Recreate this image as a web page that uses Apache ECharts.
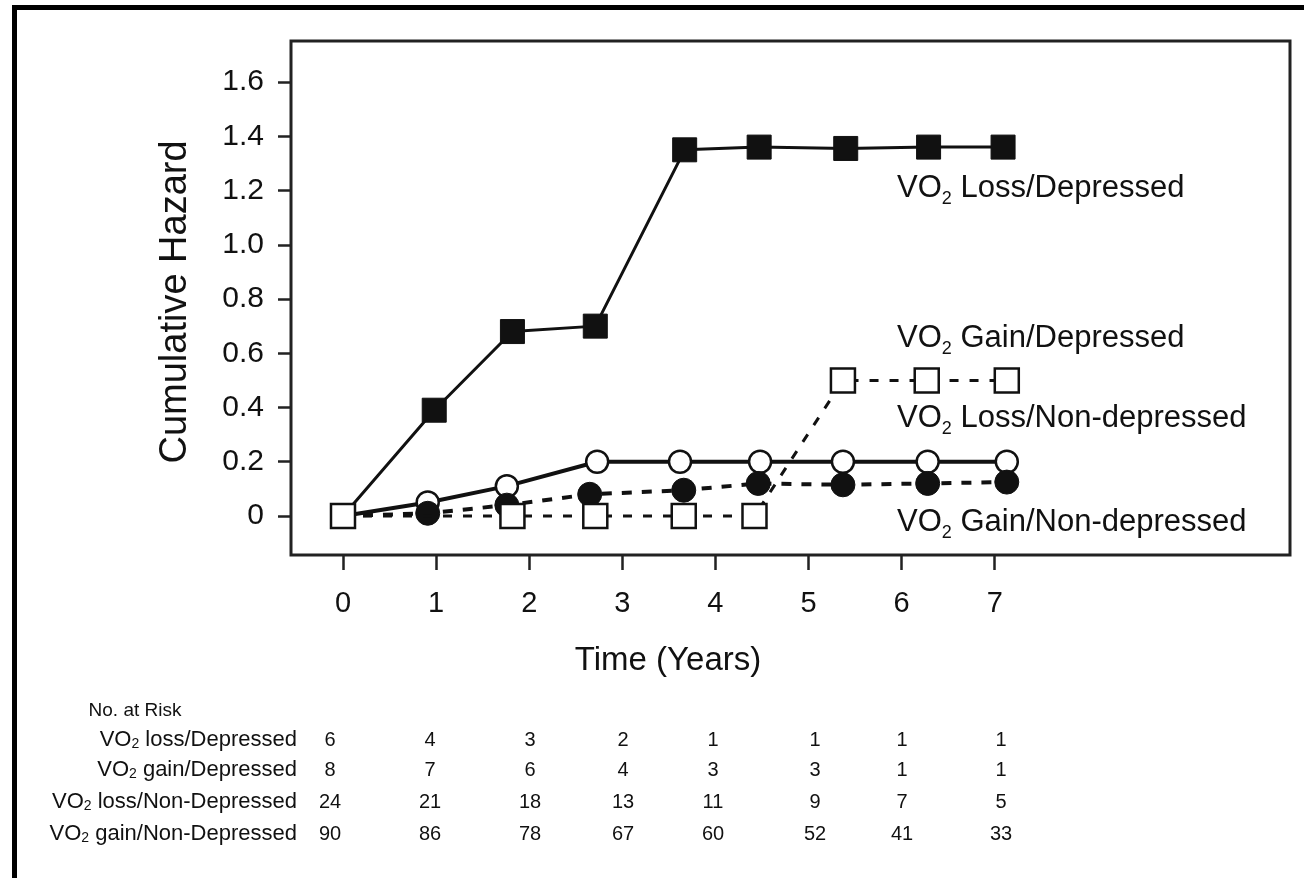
<!DOCTYPE html>
<html>
<head>
<meta charset="utf-8">
<title>Cumulative Hazard by VO2 change and depression status</title>
<script src="https://cdn.jsdelivr.net/npm/echarts@6/dist/echarts.min.js"></script>
<style>
  html, body { margin: 0; padding: 0; background: #fff; }
  #chart { width: 1304px; height: 878px; }
</style>
</head>
<body>
<div id="chart"></div>
<script>
// Tick labels
const TIME_TICKS = [0, 1, 2, 3, 4, 5, 6, 7];
const HAZARD_TICKS = [0, 0.2, 0.4, 0.6, 0.8, 1.0, 1.2, 1.4, 1.6];

// Cumulative hazard curves (time in years, cumulative hazard)
const lossDepTime      = [0, 0.98, 1.82, 2.71, 3.67, 4.47, 5.40, 6.29, 7.09];
const lossDepHazard    = [0, 0.39, 0.68, 0.70, 1.35, 1.36, 1.355, 1.36, 1.36];

const gainDepTime      = [0, 1.82, 2.71, 3.66, 4.42, 5.37, 6.27, 7.13];
const gainDepHazard    = [0, 0, 0, 0, 0, 0.50, 0.50, 0.50];

const lossNonDepTime   = [0, 0.91, 1.76, 2.73, 3.62, 4.48, 5.37, 6.28, 7.13];
const lossNonDepHazard = [0, 0.05, 0.11, 0.20, 0.20, 0.20, 0.20, 0.20, 0.20];

const gainNonDepTime   = [0, 0.91, 1.76, 2.65, 3.66, 4.46, 5.37, 6.28, 7.13];
const gainNonDepHazard = [0, 0.01, 0.04, 0.08, 0.095, 0.12, 0.115, 0.12, 0.125];

// Number at risk table
const riskTitle = 'No. at Risk';
const riskGroups = ['loss/Depressed', 'gain/Depressed', 'loss/Non-Depressed', 'gain/Non-Depressed'];
const riskLossDep    = [6, 4, 3, 2, 1, 1, 1, 1];
const riskGainDep    = [8, 7, 6, 4, 3, 3, 1, 1];
const riskLossNonDep = [24, 21, 18, 13, 11, 9, 7, 5];
const riskGainNonDep = [90, 86, 78, 67, 60, 52, 41, 33];

// Curve labels inside the plot
const curveNames = ['Loss/Depressed', 'Gain/Depressed', 'Loss/Non-depressed', 'Gain/Non-depressed'];

const FONT = '"Liberation Sans", Arial, Helvetica, sans-serif';
const INK = '#111';

const zip = (xs, ys) => xs.map((x, i) => [x, ys[i]]);

// ---- layout ----
const GRID = { left: 291, top: 41, right: 14, bottom: 323 };
const X_MIN = -0.5585, X_MAX = 10.172;
const Y_MIN = -0.1438, Y_MAX = 1.7512;

const curveLabelPos = [
  { x: 897, y: 188 },
  { x: 897, y: 338 },
  { x: 897, y: 418 },
  { x: 897, y: 522 }
];
const riskColX = [330, 430, 530, 623, 713, 815, 902, 1001];
const riskRowY = [740, 770, 802, 834];
const riskLabelRight = 297;

function voText(rest, big, small, drop) {
  return {
    text: '{m|VO}{s|2}{m| ' + rest + '}',
    rich: {
      m: { fontSize: big, fontFamily: FONT, fill: INK, lineHeight: big + 10 },
      s: { fontSize: small, fontFamily: FONT, fill: INK, padding: [drop, 0, 0, 0], lineHeight: big + 10 }
    }
  };
}

const graphics = [
  // outer figure frame (top and left edges)
  { type: 'rect', shape: { x: 12, y: 5, width: 1292, height: 5 }, style: { fill: '#000' }, silent: true },
  { type: 'rect', shape: { x: 12, y: 5, width: 5, height: 873 }, style: { fill: '#000' }, silent: true },
  // axis titles
  {
    type: 'text', x: 176, y: 302, rotation: Math.PI / 2,
    style: { text: 'Cumulative Hazard', fontSize: 38, fontFamily: FONT, fill: INK, align: 'center', verticalAlign: 'middle' }
  },
  {
    type: 'text', x: 668, y: 661,
    style: { text: 'Time (Years)', fontSize: 33, fontFamily: FONT, fill: INK, align: 'center', verticalAlign: 'middle' }
  },
  {
    type: 'text', x: 135, y: 711,
    style: { text: riskTitle, fontSize: 19, fontFamily: FONT, fill: INK, align: 'center', verticalAlign: 'middle' }
  }
];

curveNames.forEach((name, i) => {
  const t = voText(name, 31, 18, 22);
  graphics.push({
    type: 'text', x: curveLabelPos[i].x, y: curveLabelPos[i].y,
    style: Object.assign({ align: 'left', verticalAlign: 'middle' }, t)
  });
});

const riskCounts = [riskLossDep, riskGainDep, riskLossNonDep, riskGainNonDep];
riskGroups.forEach((g, r) => {
  const t = voText(g, 22, 14, 9);
  graphics.push({
    type: 'text', x: riskLabelRight, y: riskRowY[r],
    style: Object.assign({ align: 'right', verticalAlign: 'middle' }, t)
  });
  riskCounts[r].forEach((n, c) => {
    graphics.push({
      type: 'text', x: riskColX[c], y: riskRowY[r],
      style: { text: String(n), fontSize: 20, fontFamily: FONT, fill: INK, align: 'center', verticalAlign: 'middle' }
    });
  });
});

const openMarker = { color: '#fff', borderColor: INK, borderWidth: 2.5 };
const filledMarker = { color: INK, borderColor: INK, borderWidth: 1 };

const option = {
  backgroundColor: '#fff',
  animation: false,
  grid: Object.assign({ show: true, borderColor: '#222', borderWidth: 3, backgroundColor: 'transparent' }, GRID),
  xAxis: {
    type: 'value', min: X_MIN, max: X_MAX,
    axisLine: { show: false, onZero: false },
    splitLine: { show: false },
    axisTick: { show: true, customValues: TIME_TICKS, length: 15, lineStyle: { color: '#222', width: 2.5 } },
    axisLabel: {
      customValues: TIME_TICKS, formatter: v => String(v),
      fontSize: 29, fontFamily: FONT, color: INK, margin: 34
    }
  },
  yAxis: {
    type: 'value', min: Y_MIN, max: Y_MAX,
    axisLine: { show: false, onZero: false },
    splitLine: { show: false },
    axisTick: { show: true, customValues: HAZARD_TICKS, length: 13, lineStyle: { color: '#222', width: 2.5 } },
    axisLabel: {
      customValues: HAZARD_TICKS, formatter: v => (Math.abs(v) < 1e-9 ? '0' : v.toFixed(1)),
      fontSize: 30, fontFamily: FONT, color: INK, margin: 27
    }
  },
  graphic: graphics,
  series: [
    {
      name: 'VO2 Loss/Depressed', type: 'line', z: 2,
      data: zip(lossDepTime, lossDepHazard),
      symbol: 'rect', symbolSize: 24,
      lineStyle: { color: INK, width: 3, type: 'solid' },
      itemStyle: filledMarker
    },
    {
      name: 'VO2 Loss/Non-depressed', type: 'line', z: 3,
      data: zip(lossNonDepTime, lossNonDepHazard),
      symbol: 'circle', symbolSize: 22,
      lineStyle: { color: INK, width: 4, type: 'solid' },
      itemStyle: openMarker
    },
    {
      name: 'VO2 Gain/Non-depressed', type: 'line', z: 4,
      data: zip(gainNonDepTime, gainNonDepHazard),
      symbol: 'circle', symbolSize: 24,
      lineStyle: { color: INK, width: 4, type: [10, 10] },
      itemStyle: filledMarker
    },
    {
      name: 'VO2 Gain/Depressed', type: 'line', z: 5,
      data: zip(gainDepTime, gainDepHazard),
      symbol: 'rect', symbolSize: 24,
      lineStyle: { color: INK, width: 3, type: [9, 11] },
      itemStyle: openMarker
    }
  ]
};

const chart = echarts.init(document.getElementById('chart'), null, { renderer: 'canvas' });
chart.setOption(option);
</script>
</body>
</html>
